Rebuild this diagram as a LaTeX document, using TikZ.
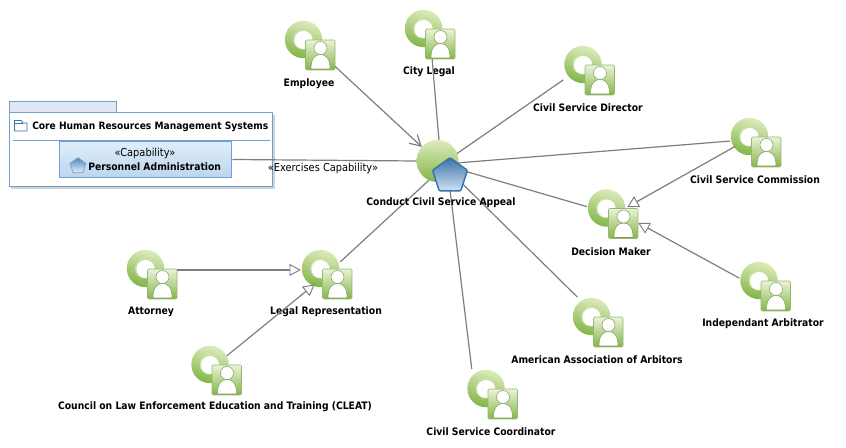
\documentclass[tikz,border=0pt]{standalone}
\usepackage{fontspec}
\setmainfont{DejaVu Sans Condensed}
\usetikzlibrary{arrows.meta,shapes.geometric}
\definecolor{pkgblue}{HTML}{6F9FD4}
\definecolor{tabblue}{HTML}{DFE9F5}
\definecolor{capblue}{HTML}{BCD5EE}
\definecolor{capblueb}{HTML}{E0EEFB}
\definecolor{penblue}{HTML}{3A73A8}
\definecolor{lightgreen}{HTML}{DCEBBB}
\definecolor{midgreen}{HTML}{A6CC6E}
\definecolor{darkgreen}{HTML}{83B548}
\definecolor{linegray}{HTML}{7E7E7E}
\tikzset{
  actorbox/.style={rectangle,inner sep=0pt,outer sep=0pt,minimum width=38.5pt,minimum height=37.5pt},
  actorlabel/.style={inner sep=0pt,yshift=-0.75pt,font=\fontsize{7.7}{10}\selectfont\bfseries},
  link/.style={draw=linegray,line width=0.9pt},
  uses/.style={link,-{Straight Barb[length=8pt,width=9pt,line width=0.9pt]}},
  isa/.style={link,-{Triangle[open,fill=white,length=8.5pt,width=9pt,line width=0.7pt]}},
  actor/.pic={
    %anello
    \shade[top color=lightgreen,bottom color=darkgreen,shading angle=-15] (-6,-5.5) circle (18.7);
    \fill[midgreen!60] (-6.5,-5.5) circle (10);
    \fill[white] (-6,-5) circle (9);
    %scheda
    \draw[draw=midgreen!70!gray,top color=lightgreen!60,bottom color=darkgreen,rounded corners=1pt] (-4,-5) rectangle (25.5,25);
    \draw[draw=darkgreen!60!gray,fill=white] (1.5,24) .. controls (1.5,14) and (5,9.5) .. (11,9.5) .. controls (17,9.5) and (20.5,14) .. (20.5,24) -- cycle;
    \draw[draw=darkgreen!60!gray,fill=white] (11,3) circle (6.5);
  }
}
\begin{document}
\begin{tikzpicture}[x=0.75pt,y=-0.75pt]
    \useasboundingbox (0,0) rectangle (846,448);
    %package
    \fill[gray!35] (11,115) rectangle (275,189);
    \draw[pkgblue,fill=tabblue,line width=0.75pt] (9.5,113) rectangle (116.5,101.5);
    \node[draw=pkgblue,fill=white,line width=0.75pt,inner sep=0pt,minimum width=197.5pt,minimum height=55.5pt] (package) at (141.25,150) {};
    \draw[pkgblue,line width=0.6pt] (13,140) -- (270,140);
    %icona cartella
    \draw[penblue,fill=white,line width=0.6pt] (14.5,131) -- (14.5,120.5) -- (21,120.5) -- (23,123) -- (27,123) -- (27,131) -- cycle;
    \draw[penblue,line width=0.6pt] (14.5,123) -- (23,123);
    \node[inner sep=0pt,anchor=west,font=\fontsize{7.6}{10}\selectfont\bfseries] (packagetitle) at (32,126.5) {Core Human Resources Management Systems};
    %capability
    \node[draw=pkgblue,top color=capblueb,bottom color=capblue,line width=0.75pt,inner sep=0pt,minimum width=129.5pt,minimum height=27.5pt] (capability) at (145.5,159.5) {};
    \node[inner sep=0pt,font=\fontsize{8.2}{10}\selectfont] (capabilitytype) at (145,153.5) {«Capability»};
    \node[inner sep=0pt,anchor=west,font=\fontsize{7.7}{10}\selectfont\bfseries] (capabilityname) at (88,166.5) {Personnel Administration};
    \node[regular polygon,regular polygon sides=5,minimum size=12.5pt,inner sep=0pt,top color=penblue!85,bottom color=capblueb,draw=pkgblue,line width=0.5pt] (capabilityicon) at (78,166) {};
    %attori
    \foreach \nm/\x/\y/\lx/\ly/\txt in {
        employee/309.5/45/309/83/{Employee},
        citylegal/429.5/34/429/71/{City Legal},
        director/589/70/588/107/{Civil Service Director},
        commission/755.5/142/755/179/{Civil Service Commission},
        decision/612.5/213.5/611/251/{Decision Maker},
        arbitrator/765/286/763/323/{Independant Arbitrator},
        american/597.5/322/597/359/{American Association of Arbitors},
        coordinator/492/394/491/431/{Civil Service Coordinator},
        council/216/370/215/406/{Council on Law Enforcement Education and Training (CLEAT)},
        legal/326.5/274/326/311/{Legal Representation},
        attorney/151.5/274/151/311/{Attorney}}{
      \node[actorbox] (\nm) at (\x,\y) {};
      \pic at (\nm.center) {actor};
      \node[actorlabel] (\nm label) at (\lx,\ly) {\txt};
    }
    %caso d'uso
    \node[circle,minimum size=31.5pt,inner sep=0pt,outer sep=0pt] (appeal) at (437.5,161) {};
    %collegamenti
    \draw[link] (capability.east) -- (appeal.west);
    \node[inner sep=0pt,font=\fontsize{8.2}{10}\selectfont] (exercises) at (323,168.5) {«Exercises Capability»};
    \draw[uses] (employee.-40.6) -- (appeal.138);
    \draw[link] (citylegal.-84.3) -- (appeal.86);
    \draw[link] (director.201) -- (appeal.21);
    \draw[link] (commission.178) -- (appeal.-5);
    \draw[link] (appeal.-22) -- (decision.165.7);
    \draw[link] (american.129.4) -- (appeal.-41);
    \draw[link] (coordinator.129.4) -- (appeal.-58);
    \draw[link,shorten <=-12pt] (legal.42) -- (appeal.246.6);
    \draw[isa,shorten <=-4.5pt,shorten >=-9.4pt] (commission.196) -- (decision.26);
    \draw[isa] (arbitrator.163) -- (decision.-20.4);
    \draw[isa] (attorney.9) -- (legal.171);
    \draw[isa,shorten <=-13pt,shorten >=-13.3pt] (council.46.6) -- (legal.220.8);
    %cerchio e pentagono
    \shade[top color=lightgreen,bottom color=darkgreen] (appeal.center) circle (21);
    \node[regular polygon,regular polygon sides=5,minimum size=27.5pt,inner sep=0pt,top color=penblue,bottom color=capblue!70,draw=penblue,line width=1.1pt,rounded corners=0.8pt] (pentagon) at (450,176) {};
    \node[actorlabel] (appeal label) at (441,202) {Conduct Civil Service Appeal};
\end{tikzpicture}
\end{document}
